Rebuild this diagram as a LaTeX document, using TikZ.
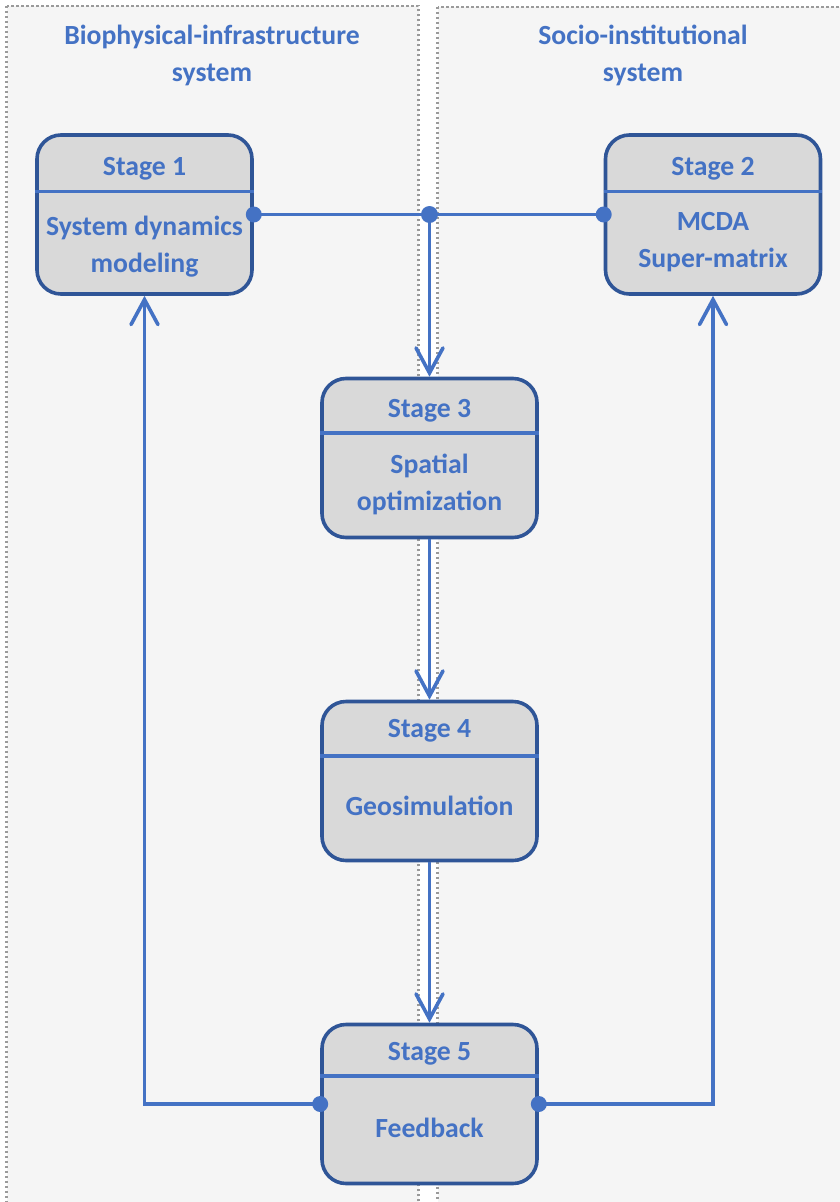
\documentclass[tikz,border=0pt]{standalone}
\usepackage{fontspec}
\setmainfont{Carlito}
\usetikzlibrary{arrows.meta}

\definecolor{panelfill}{HTML}{F5F5F5}
\definecolor{panelline}{HTML}{9A9A9A}
\definecolor{boxfill}{HTML}{D9D9D9}
\definecolor{boxline}{HTML}{2F5597}
\definecolor{accent}{HTML}{4472C4}

\tikzset{
  panel/.style={fill=panelfill, draw=panelline, line width=2.6pt, dash pattern=on 2.4pt off 2.6pt},
  stagebox/.style={draw=boxline, fill=boxfill, line width=3.6pt, rounded corners=24pt,
    minimum width=215pt, minimum height=159pt, inner sep=0pt},
  label/.style={text=accent, font=\bfseries\fontsize{27.7}{37}\selectfont, anchor=base, inner sep=0pt},
  divider/.style={draw=accent, line width=3.4pt},
  link/.style={draw=accent, line width=3.6pt},
  flow/.style={link, -{Straight Barb[length=25pt,width=27pt,line cap=round]}},
  dotmark/.style={fill=accent},
}

\begin{document}
\begin{tikzpicture}[x=1pt, y=-1pt]
  \useasboundingbox (0,0) rectangle (840,1202);
  \begin{scope}
    \clip (0,0) rectangle (840,1202);
    \fill[white] (0,0) rectangle (840,1202);
    % the two system panels
    \draw[panel] (6.5,6) rectangle (418.5,1230);
    \draw[panel] (437.5,7) rectangle (870,1230);
  \end{scope}

  % panel headings
  \node[label] (t1a) at (212,44) {Biophysical-infrastructure};
  \node[label] (t1b) at (212,81) {system};
  \node[label] (t2a) at (643,44) {Socio-institutional};
  \node[label] (t2b) at (643,81) {system};

  % stage boxes
  \node[stagebox] (s1) at (144.5,214.5) {};
  \node[stagebox] (s2) at (713,214.5) {};
  \node[stagebox] (s3) at (429.5,458) {};
  \node[stagebox] (s4) at (429.5,781) {};
  \node[stagebox] (s5) at (429.5,1104) {};

  % header dividers
  \draw[divider] (s1.west |- 0,191.5) -- (s1.east |- 0,191.5);
  \draw[divider] (s2.west |- 0,191.5) -- (s2.east |- 0,191.5);
  \draw[divider] (s3.west |- 0,433) -- (s3.east |- 0,433);
  \draw[divider] (s4.west |- 0,756) -- (s4.east |- 0,756);
  \draw[divider] (s5.west |- 0,1076) -- (s5.east |- 0,1076);

  % box texts
  \node[label] (s1h) at (144.5,175) {Stage 1};
  \node[label] (s1a) at (144.5,235) {System dynamics};
  \node[label] (s1b) at (144.5,272) {modeling};

  \node[label] (s2h) at (713,175) {Stage 2};
  \node[label] (s2a) at (713,230) {MCDA};
  \node[label] (s2b) at (713,267) {Super-matrix};

  \node[label] (s3h) at (429.5,417) {Stage 3};
  \node[label] (s3a) at (429.5,473) {Spatial};
  \node[label] (s3b) at (429.5,510) {optimization};

  \node[label] (s4h) at (429.5,737) {Stage 4};
  \node[label] (s4a) at (429.5,815) {Geosimulation};

  \node[label] (s5h) at (429.5,1060) {Stage 5};
  \node[label] (s5a) at (429.5,1137) {Feedback};

  % connectors
  \coordinate (jn) at (s3.north |- s1.east);
  \draw[link] (s1.east) -- (s2.west);
  \draw[flow] (jn) -- (s3.north);
  \draw[flow] (s3.south) -- (s4.north);
  \draw[flow] (s4.south) -- (s5.north);
  \draw[flow] (s5.west) -| (s1.south);
  \draw[flow] (s5.east) -| (s2.south);

  % connection dots
  \fill[dotmark] (s1.east) circle (8);
  \fill[dotmark] (s2.west) circle (8);
  \fill[dotmark] (jn) circle (8.5);
  \fill[dotmark] (s5.west) circle (8);
  \fill[dotmark] (s5.east) circle (8);
\end{tikzpicture}
\end{document}
